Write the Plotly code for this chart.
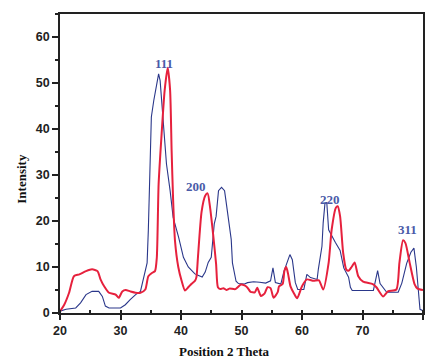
import plotly.graph_objects as go

# Blue pattern (thin navy line)
blue_x = [20, 21, 22.6, 23.4, 24.3, 25.3, 26.4, 27.0, 27.5, 28.1, 30.0, 30.8, 31.6, 32.5, 33.3, 33.8,
          34.4, 34.6, 34.8, 34.9, 35.1, 35.5, 36.0, 36.3, 36.55, 36.8, 37.1, 37.4, 37.6, 38.2, 38.7,
          39.6, 40.4, 41.2, 42.3, 42.8, 43.5, 44.0, 44.5, 45.0, 45.5, 45.8, 46.2, 46.7, 47.2, 47.4,
          47.75, 48.0, 48.3, 48.5, 48.85, 49.1, 49.5, 50.5, 51.0, 52.0, 53.0, 54.0, 54.8, 55.2, 55.6,
          56.5, 57.0, 57.3, 58.0, 58.4, 58.9, 59.3, 60.3, 60.8, 61.4, 62.5, 62.7, 63.3, 63.5, 63.8,
          64.1, 64.4, 64.9, 65.5, 66.3, 66.9, 67.7, 68.0, 68.3, 71.8, 72.5, 72.9, 74.0, 75.9, 76.5,
          77.3, 78.0, 78.5, 78.9, 79.3, 79.5, 80.0]
blue_y = [0.4, 0.8, 1.1, 2.2, 4.0, 4.7, 4.7, 3.6, 1.5, 1.1, 1.1, 1.8, 2.9, 4.0, 4.7, 7.3,
          10.9, 18.0, 29.5, 35.3, 42.6, 46.2, 49.8, 52.0, 50.5, 46.2, 39.0, 35.3, 32.4, 26.6, 20.8,
          16.5, 12.1, 10.0, 8.5, 8.2, 7.8, 8.9, 11.0, 12.1, 19.4, 21.0, 26.6, 27.3, 26.6, 24.7,
          20.8, 18.1, 16.0, 10.9, 8.0, 6.9, 6.4, 6.3, 6.6, 6.8, 6.7, 6.5, 7.0, 9.8, 6.6,
          6.3, 9.0, 10.2, 12.7, 11.6, 6.6, 5.1, 5.1, 8.4, 7.7, 7.3, 9.5, 14.5, 19.6, 23.9,
          24.0, 18.1, 16.7, 15.4, 13.6, 9.8, 7.8, 5.6, 4.9, 4.9, 9.2, 6.4, 4.5, 4.5, 6.5,
          10.8, 13.2, 14.1, 10.0, 4.3, 0.8, 0.5]

# Red pattern (thick red line)
red_x = [20, 20.7, 21.5, 22.3, 23.2, 24.3, 25.3, 26.2, 26.7, 27.3, 28.1, 29.2, 29.7, 30.3, 30.85,
         31.6, 32.5, 33.3, 34.1, 34.6, 35.2, 35.7, 36.0, 36.3, 36.8, 37.3, 37.8, 38.2, 38.45, 38.7,
         39.0, 39.55, 40.1, 40.65, 41.2, 41.7, 42.3, 42.55, 42.8, 43.4, 44.0, 44.4, 44.8, 45.3, 45.8,
         46.1, 46.5, 47.0, 47.5, 48.0, 49.0, 49.9, 50.5, 51.0, 51.5, 52.2, 52.6, 53.2, 53.8, 54.3,
         54.8, 55.3, 56.0, 56.2, 56.8, 57.1, 57.4, 57.7, 58.1, 58.7, 59.2, 60.0, 60.8, 61.9, 62.8,
         63.5, 64.4, 64.9, 65.6, 65.9, 66.3, 66.8, 67.3, 67.7, 68.2, 68.7, 69.3, 70.1, 71.7, 72.3,
         73.4, 74.2, 75.6, 76.1, 76.7, 77.1, 77.8, 78.6, 79.1, 80.0]
red_y = [0.4, 1.8, 4.4, 8.0, 8.4, 9.1, 9.5, 9.1, 7.3, 5.8, 4.4, 4.0, 3.3, 4.7, 5.0,
         4.7, 4.4, 4.4, 5.1, 8.0, 8.7, 9.1, 12.0, 28.0, 39.0, 48.4, 53.3, 48.4, 35.3, 24.5,
         15.8, 10.0, 7.0, 4.9, 5.6, 6.3, 7.0, 7.8, 12.1, 22.0, 25.5, 26.0, 23.0, 17.2, 10.7,
         5.6, 5.2, 5.4, 5.0, 5.3, 5.2, 6.2, 6.0, 5.5, 4.6, 4.5, 5.5, 3.7, 4.2, 5.6,
         5.4, 3.3, 4.6, 5.8, 6.3, 9.2, 10.0, 8.5, 5.8, 4.2, 3.2, 5.8, 7.3, 7.0, 7.1,
         5.1, 10.9, 18.1, 22.9, 23.2, 21.0, 13.1, 9.5, 9.2, 10.0, 11.0, 8.0, 6.8, 6.3, 5.6,
         3.6, 4.7, 5.1, 10.9, 15.8, 15.2, 10.9, 6.3, 5.3, 5.0]

# Peak labels
peak_labels = ["111", "200", "220", "311"]
peak_x = [37.26, 42.5, 64.64, 77.4]
peak_y = [54.2, 27.6, 24.7, 18.2]

fig = go.Figure()
fig.add_trace(go.Scatter(x=blue_x, y=blue_y, mode="lines",
                         line=dict(color="#2a378a", width=1.1), showlegend=False))
fig.add_trace(go.Scatter(x=red_x, y=red_y, mode="lines",
                         line=dict(color="#e6213d", width=2, shape="spline", smoothing=0.6),
                         showlegend=False))

for t, x, y in zip(peak_labels, peak_x, peak_y):
    fig.add_annotation(x=x, y=y, text=t, showarrow=False, xref="x", yref="y",
                       xanchor="center", yanchor="middle",
                       font=dict(family="Liberation Serif", size=13, color="#4a5aa8", weight="bold"))

W, H = 426, 358
L, R, T, B = 60, 1, 14, 45
pw, ph = W - L - R, H - T - B

def px_to_paper(px, py):
    return (px - L) / pw, 1 - (py - T) / ph

# Axis titles (positioned in pixels, converted to paper coords)
tx, ty = px_to_paper(225, 351)
fig.add_annotation(x=tx, y=ty, xref="paper", yref="paper", text="Position 2 Theta", showarrow=False,
                   xanchor="center", yanchor="middle",
                   font=dict(family="Liberation Serif", size=13, color="#111", weight="bold"))
ix, iy = px_to_paper(20.5, 179)
fig.add_annotation(x=ix, y=iy, xref="paper", yref="paper", text="Intensity", showarrow=False,
                   textangle=-90, xanchor="center", yanchor="middle",
                   font=dict(family="Liberation Serif", size=13, color="#111", weight="bold"))

tickfont = dict(family="Liberation Sans", size=12.5, color="#222", weight="bold")
fig.update_xaxes(range=[20, 80], tickvals=[20, 30, 40, 50, 60, 70, 80],
                 ticks="outside", ticklen=5, tickwidth=1.5, tickcolor="#222",
                 minor=dict(dtick=5, ticks="inside", ticklen=3, tickcolor="#222"),
                 showline=True, linecolor="#222", linewidth=1.5, mirror=True,
                 showgrid=False, zeroline=False, tickfont=tickfont)
fig.update_yaxes(range=[0, 65], tickvals=[0, 10, 20, 30, 40, 50, 60],
                 ticks="outside", ticklen=6, tickwidth=1.5, tickcolor="#222",
                 minor=dict(dtick=5, ticks="outside", ticklen=3, tickcolor="#222"),
                 showline=True, linecolor="#222", linewidth=1.5, mirror=True,
                 showgrid=False, zeroline=False, tickfont=tickfont)
fig.update_layout(width=W, height=H, margin=dict(l=L, r=R, t=T, b=B),
                  plot_bgcolor="white", paper_bgcolor="white")
fig.write_html("out.html", config={"displayModeBar": False},
               post_script="document.body.style.margin='0';document.body.style.overflow='hidden';")
